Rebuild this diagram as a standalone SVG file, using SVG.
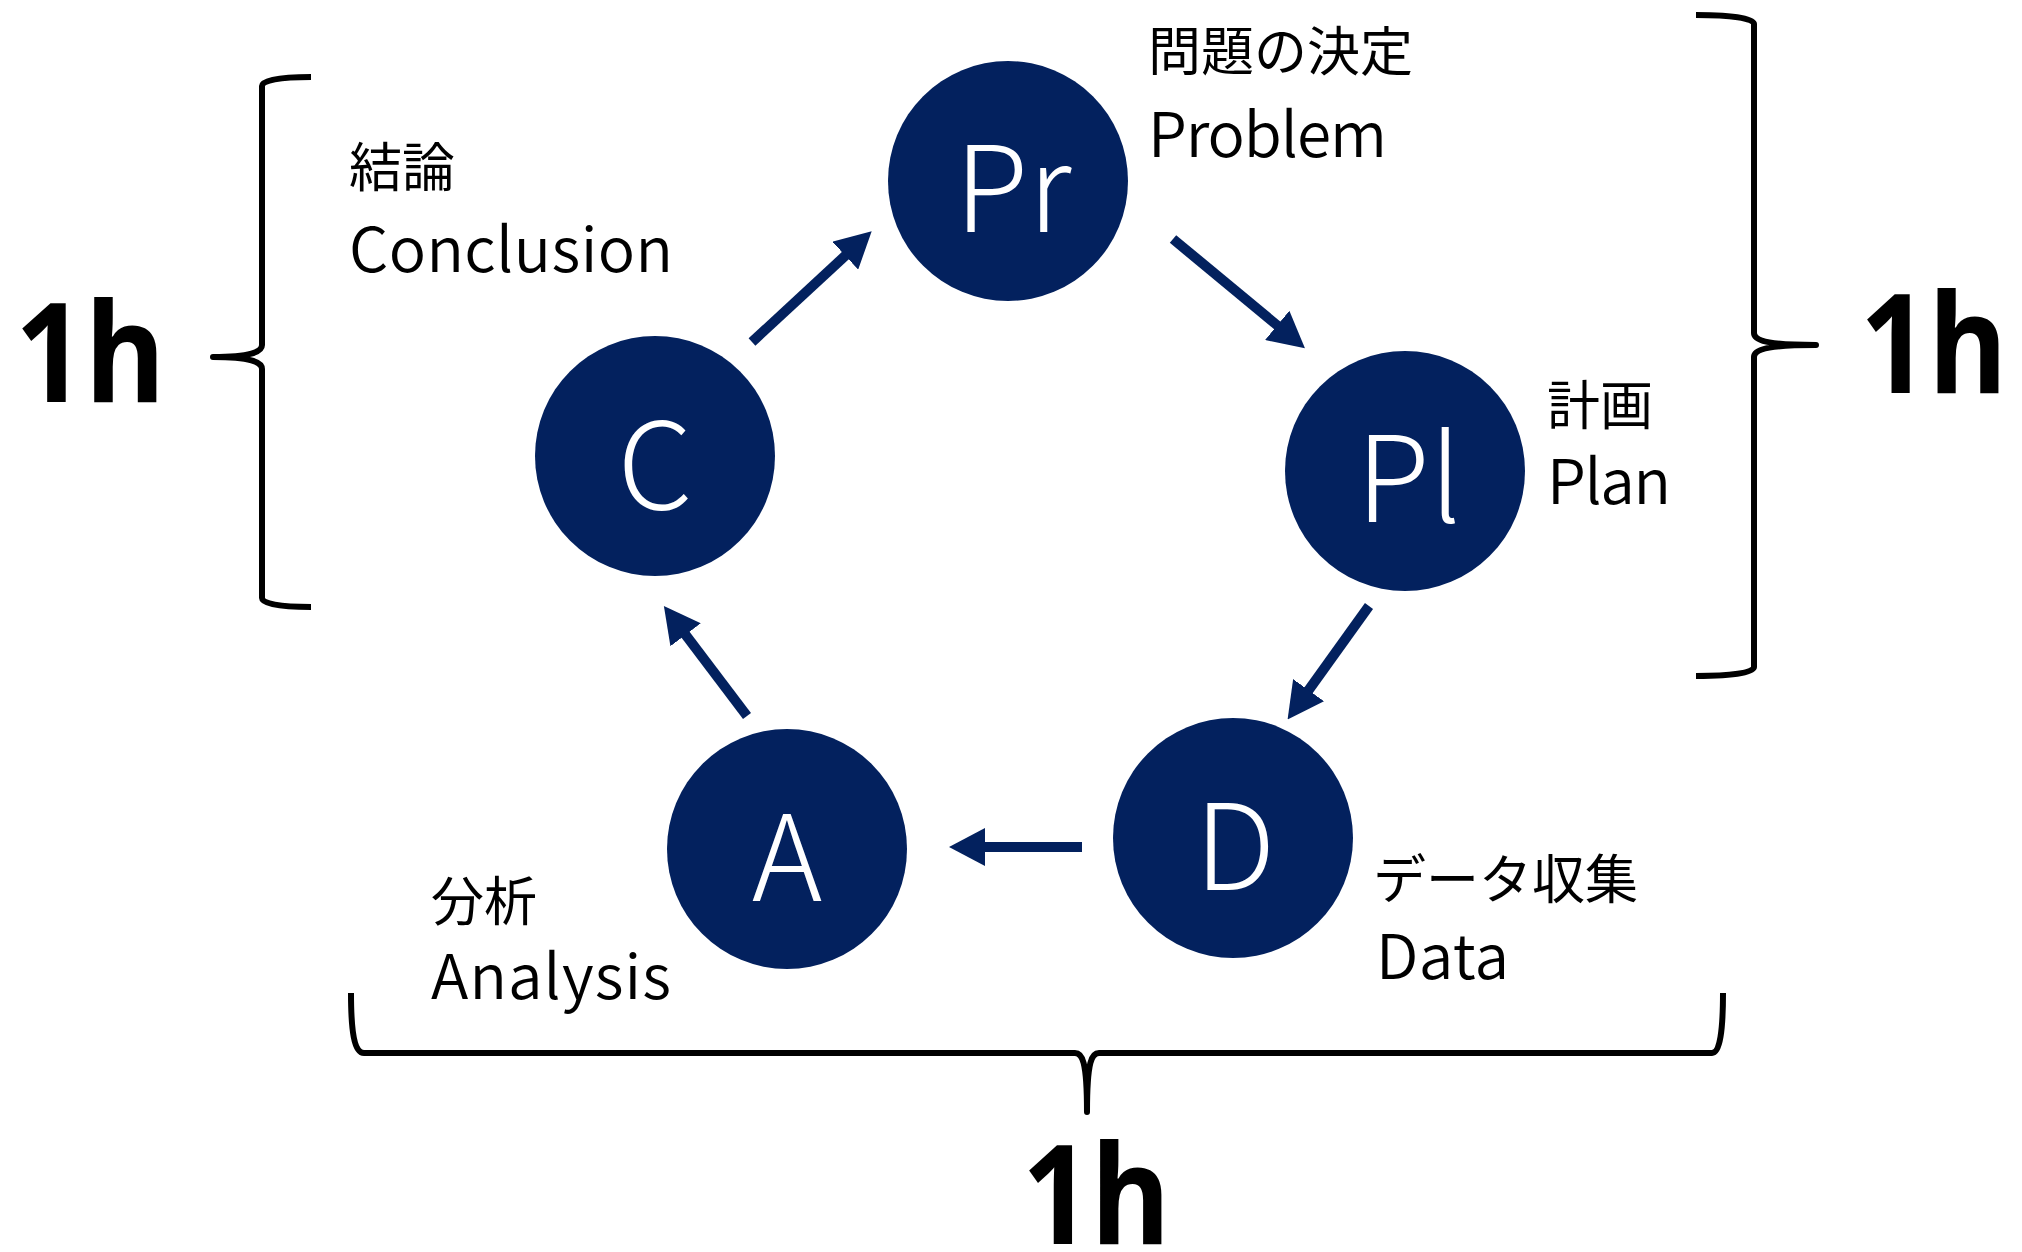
<svg xmlns="http://www.w3.org/2000/svg" width="2022" height="1252" viewBox="0 0 2022 1252">
<defs>
<style>
.node{fill:#03215e}
.nl{fill:#fff;font-family:"Noto Sans CJK JP","Noto Sans",sans-serif;font-weight:300;font-size:120px;text-anchor:middle}
.jp{fill:#000;font-family:"Noto Sans CJK JP",sans-serif;font-size:53px}
.en{fill:#000;font-family:"Noto Sans CJK JP","Noto Sans",sans-serif;font-weight:350;font-size:62px}
.hr{fill:#000;font-family:"Noto Sans","Open Sans",sans-serif;font-weight:700;font-size:138px}
.brace{fill:none;stroke:#000;stroke-width:6;stroke-linejoin:round}
.arrow{stroke:#03215e;stroke-width:10;fill:none;marker-end:url(#ah)}
</style>
<marker id="ah" markerUnits="userSpaceOnUse" markerWidth="36" markerHeight="38" viewBox="0 -19 36 38" refX="1" refY="0" orient="auto">
<path d="M0,-19 L36,0 L0,19 z" fill="#03215e"/>
</marker>
</defs>
<rect width="2022" height="1252" fill="#fff"/>
<g id="connectors">
<line class="arrow" x1="752" y1="342" x2="846" y2="255"/>
<line class="arrow" x1="1173" y1="239" x2="1278" y2="326"/>
<line class="arrow" x1="1369" y1="606" x2="1308" y2="691"/>
<line class="arrow" x1="1082" y1="847" x2="984" y2="847"/>
<line class="arrow" x1="747" y1="716" x2="685" y2="634"/>
</g>
<g id="node-pr">
<circle class="node" cx="1008" cy="181" r="120"/>
<text class="nl" x="1013" y="232">Pr</text>
<text class="jp" x="1148" y="71">問題の決定</text>
<text class="en" x="1148" y="157" textLength="239" lengthAdjust="spacing">Problem</text>
</g>
<g id="node-pl">
<circle class="node" cx="1405" cy="471" r="120"/>
<text class="nl" x="1409" y="522">Pl</text>
<text class="jp" x="1547" y="425">計画</text>
<text class="en" x="1547" y="504" textLength="124" lengthAdjust="spacing">Plan</text>
</g>
<g id="node-d">
<circle class="node" cx="1233" cy="838" r="120"/>
<text class="nl" x="1235" y="890">D</text>
<text class="jp" x="1373" y="899">データ収集</text>
<text class="en" x="1376" y="979" textLength="133" lengthAdjust="spacing">Data</text>
</g>
<g id="node-a">
<circle class="node" cx="787" cy="849" r="120"/>
<text class="nl" x="787" y="901">A</text>
<text class="jp" x="431" y="921">分析</text>
<text class="en" x="431" y="999" textLength="240" lengthAdjust="spacing">Analysis</text>
</g>
<g id="node-c">
<circle class="node" cx="655" cy="456" r="120"/>
<text class="nl" x="655" y="509">C</text>
<text class="jp" x="349" y="187">結論</text>
<text class="en" x="349" y="272" textLength="324" lengthAdjust="spacing">Conclusion</text>
</g>
<g id="brace-left">
<path class="brace" d="M311,77 C280,77 262,80 262,86 L262,345 C262,352 250,357 213,357 C250,357 262,362 262,369 L262,598 C262,604 280,607 311,607"/>
<text class="hr" x="15" y="402" textLength="150" lengthAdjust="spacingAndGlyphs">1h</text>
</g>
<g id="brace-right">
<path class="brace" d="M1696,15 C1730,15 1754,18 1754,24 L1754,333 C1754,340 1766,345 1816,345 C1766,345 1754,350 1754,357 L1754,667 C1754,673 1730,676 1696,676"/>
<text class="hr" x="1860" y="393" textLength="147" lengthAdjust="spacingAndGlyphs">1h</text>
</g>
<g id="brace-bottom">
<path class="brace" d="M351,993 C351,1030 354,1053 364,1053 L1075,1053 C1082,1053 1087,1060 1087,1112 C1087,1060 1092,1053 1099,1053 L1712,1053 C1720,1053 1723,1030 1723,993"/>
<text class="hr" x="1022" y="1244" textLength="148" lengthAdjust="spacingAndGlyphs">1h</text>
</g>
</svg>
